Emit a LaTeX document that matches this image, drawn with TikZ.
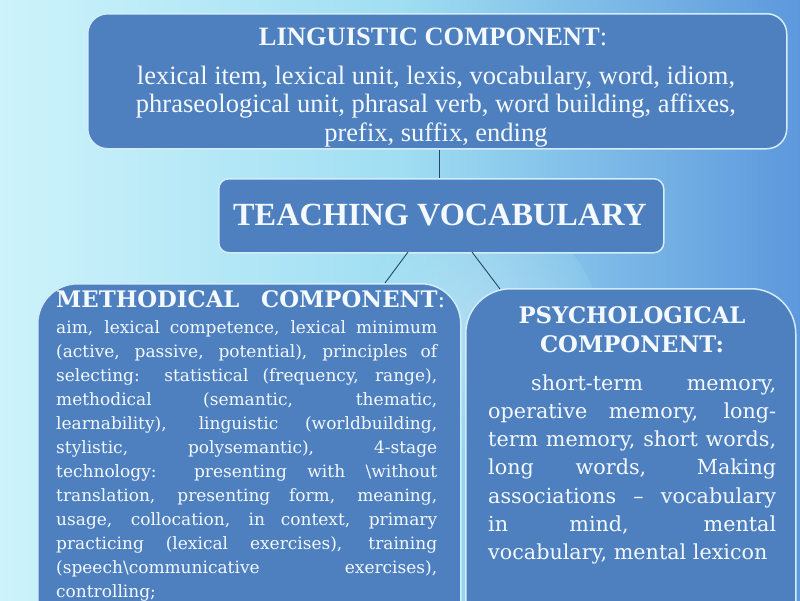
\documentclass[tikz,border=0pt]{standalone}
\usepackage{fontspec}
\setmainfont{Liberation Serif}
\newfontfamily\wideserif{DejaVu Serif}[Ligatures=TeX]
\definecolor{bgL}{RGB}{205,243,251}
\definecolor{bgM}{RGB}{160,222,242}
\definecolor{bgR}{RGB}{92,152,220}
\definecolor{boxfill}{RGB}{78,128,192}
\definecolor{boxedge}{RGB}{210,236,248}
\definecolor{txt}{RGB}{244,249,253}
\definecolor{conn}{RGB}{40,70,100}
\newcommand{\jl}[2]{\makebox[#1][s]{#2}}
\newcommand{\cvtop}[2]{\vtop{\baselineskip=#1\relax\halign{\hfil##\hfil\cr#2\crcr}}}
\newcommand{\lvtop}[2]{\vtop{\baselineskip=#1\relax\halign{##\hfil\cr#2\crcr}}}
\begin{document}
\begin{tikzpicture}[x=1pt,y=-1pt,
  box/.style={draw=boxedge, line width=1.5pt, fill=boxfill},
  lbl/.style={text=txt, inner sep=0pt, anchor=base},
  link/.style={draw=conn, line width=0.9pt}]
\useasboundingbox (0,0) rectangle (800,600);
\shade[left color=bgL, right color=bgR, middle color=bgM] (0,0) rectangle (800,600);
\shade[inner color=white, outer color=bgM, opacity=0.25] (480,330) circle (120);
% boxes
\node[box, rounded corners=20pt, minimum width=699pt, minimum height=135pt, anchor=north west] (ling) at (87,13) {};
\node[box, rounded corners=10pt, minimum width=445pt, minimum height=74pt, anchor=north west] (teach) at (218,178) {};
\node[box, rounded corners=40pt, minimum width=423pt, minimum height=360pt, anchor=north west] (meth) at (37,283) {};
\node[box, rounded corners=45pt, minimum width=330pt, minimum height=360pt, anchor=north west] (psy) at (465,288) {};
% connectors
\coordinate (ta) at (439,252);
\coordinate (tb) at (408,252);
\coordinate (tc) at (472,252);
\coordinate (mb) at (385,283);
\coordinate (pc) at (500,289);
\draw[link] (ling.south -| ta) -- (teach.north -| ta);
\draw[link] (tb) -- (mb);
\draw[link] (tc) -- (pc);
% linguistic text
\node[lbl, font=\bfseries\fontsize{26.5}{28}\selectfont] (lingt) at (433,45) {LINGUISTIC COMPONENT\mdseries:};
\node[lbl, font=\fontsize{26.5}{28.5}\selectfont] (lingb) at (436,84) {\cvtop{28.5pt}{lexical item, lexical unit, lexis, vocabulary, word, idiom,\cr phraseological unit, phrasal verb, word building, affixes,\cr prefix, suffix, ending}};
% teaching text
\node[lbl, font=\bfseries\fontsize{32.3}{36}\selectfont] (teacht) at (440,225) {TEACHING VOCABULARY};
% methodical text
\node[lbl, anchor=base west, font=\wideserif\bfseries\fontsize{22.8}{24}\selectfont] (methh) at (56,307) {\jl{389pt}{METHODICAL COMPONENT\mdseries:}};
\node[lbl, anchor=base west, font=\wideserif\fontsize{17}{24}\selectfont] (metht) at (56,333) {\lvtop{24pt}{%
\jl{381pt}{aim, lexical competence, lexical minimum}\cr
\jl{381pt}{(active, passive, potential), principles of}\cr
\jl{381pt}{selecting: statistical (frequency, range),}\cr
\jl{381pt}{methodical (semantic, thematic,}\cr
\jl{381pt}{learnability), linguistic (worldbuilding,}\cr
\jl{381pt}{stylistic, polysemantic), 4-stage}\cr
\jl{381pt}{technology: presenting with \textbackslash without}\cr
\jl{381pt}{translation, presenting form, meaning,}\cr
\jl{381pt}{usage, collocation, in context, primary}\cr
\jl{381pt}{practicing (lexical exercises), training}\cr
\jl{381pt}{(speech\textbackslash communicative exercises),}\cr
controlling;}};
% psychological text
\node[lbl, font=\wideserif\bfseries\fontsize{22.8}{29}\selectfont] (psyt) at (632,323) {\cvtop{29pt}{PSYCHOLOGICAL\cr COMPONENT:}};
\node[lbl, anchor=base west, font=\wideserif\fontsize{20.7}{28.3}\selectfont] (psyb) at (488,390) {\lvtop{28.3pt}{%
\hspace*{43pt}\jl{245pt}{short-term memory,}\cr
\jl{288pt}{operative memory, long-}\cr
\jl{288pt}{term memory, short words,}\cr
\jl{288pt}{long words, Making}\cr
\jl{288pt}{associations – vocabulary}\cr
\jl{288pt}{in mind, mental}\cr
vocabulary, mental lexicon}};
\end{tikzpicture}
\end{document}
